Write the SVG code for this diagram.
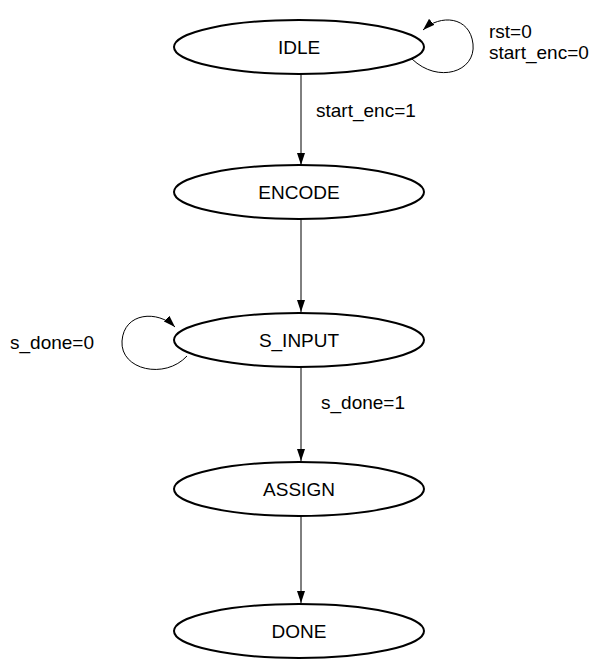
<svg xmlns="http://www.w3.org/2000/svg" width="602" height="670" viewBox="0 0 602 670">
<defs>
<marker id="ah" markerWidth="12" markerHeight="8" refX="12" refY="4" orient="auto" markerUnits="userSpaceOnUse">
<path d="M0,0 L12,4 L0,8 z" fill="#000"/>
</marker>
<style>
.st{fill:#fff;stroke:#000;stroke-width:2}
.lb{font-family:"Liberation Sans",Arial,sans-serif;font-size:19px;fill:#000}
.nt{text-anchor:middle;dominant-baseline:central}
.cn{fill:none;stroke:#000;stroke-width:1;marker-end:url(#ah)}
</style>
</defs>
<rect width="602" height="670" fill="#fff"/>
<g id="connectors">
<line class="cn" x1="301" y1="74" x2="301" y2="165"/>
<line class="cn" x1="301" y1="219" x2="301" y2="312"/>
<line class="cn" x1="301" y1="367" x2="301" y2="461"/>
<line class="cn" x1="301" y1="516" x2="301" y2="603"/>
<path class="cn" d="M412,59 C438,84 476,72 473,44 C470,16 440,14 423,30"/>
<path class="cn" d="M187,356 C165,380 120,370 122,341 C124,312 158,310 175,327"/>
<text class="lb" x="316" y="117">start_enc=1</text>
<text class="lb" x="321" y="409">s_done=1</text>
<text class="lb" x="489" y="38">rst=0</text>
<text class="lb" x="489" y="59">start_enc=0</text>
<text class="lb" x="10" y="349">s_done=0</text>
</g>
<g id="IDLE">
<ellipse class="st" cx="299" cy="47" rx="125" ry="27"/>
<text class="lb nt" x="299" y="47">IDLE</text>
</g>
<g id="ENCODE">
<ellipse class="st" cx="299" cy="192" rx="125" ry="27"/>
<text class="lb nt" x="299" y="192">ENCODE</text>
</g>
<g id="S_INPUT">
<ellipse class="st" cx="299" cy="340" rx="125" ry="27"/>
<text class="lb nt" x="299" y="340">S_INPUT</text>
</g>
<g id="ASSIGN">
<ellipse class="st" cx="299" cy="489" rx="125" ry="27"/>
<text class="lb nt" x="299" y="489">ASSIGN</text>
</g>
<g id="DONE">
<ellipse class="st" cx="299" cy="631" rx="125" ry="27"/>
<text class="lb nt" x="299" y="631">DONE</text>
</g>
</svg>
